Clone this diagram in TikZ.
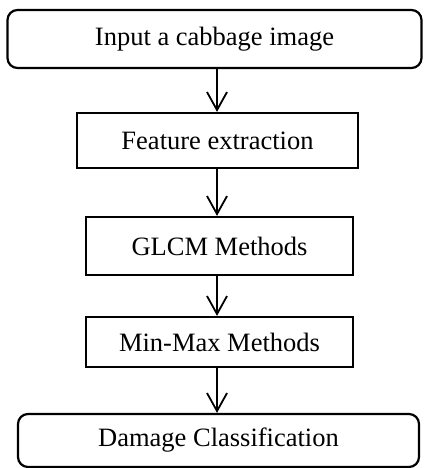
\documentclass[tikz,border=0pt]{standalone}
\usepackage{fontspec}
\setmainfont{Liberation Serif}
\usetikzlibrary{arrows.meta}
\begin{document}
\begin{tikzpicture}[x=1pt,y=-1pt,
  box/.style={draw=black, line width=2.2pt, inner sep=0pt, font=\fontsize{26.5}{30}\selectfont, anchor=center},
  rbox/.style={box, rounded corners=10pt},
  arr/.style={line width=1.8pt, -{Straight Barb[length=18pt,width=20pt,line width=1.8pt]}}]
\useasboundingbox (0,0) rectangle (424,468);
\node[rbox, minimum width=414pt, minimum height=58pt] (b1) at (214.5,39) {Input a cabbage image};
\node[box, minimum width=281pt, minimum height=55pt] (b2) at (217.5,140.5) {Feature extraction};
\node[box, minimum width=267pt, minimum height=58pt] (b3) at (219.5,246) {GLCM Methods};
\node[box, minimum width=267pt, minimum height=50pt] (b4) at (219.5,342) {Min-Max Methods};
\node[rbox, minimum width=401pt, minimum height=53pt] (b5) at (218.5,440.5) {Damage Classification};
\coordinate (ax) at (217,0);
\draw[arr] (b1.south -| ax) -- (b2.north -| ax);
\draw[arr] (b2.south -| ax) -- (b3.north -| ax);
\draw[arr] (b3.south -| ax) -- (b4.north -| ax);
\draw[arr] (b4.south -| ax) -- (b5.north -| ax);
\end{tikzpicture}
\end{document}
